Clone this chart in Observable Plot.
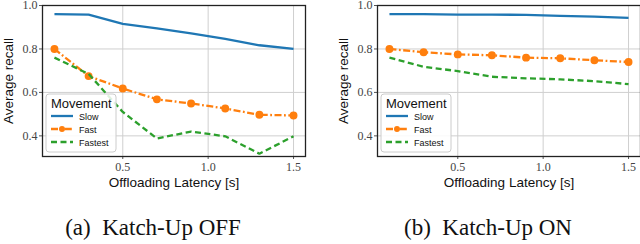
<!DOCTYPE html>
<html>
<head>
<meta charset="utf-8">
<script src="https://cdn.jsdelivr.net/npm/d3@7"></script>
<script src="https://cdn.jsdelivr.net/npm/@observablehq/plot@0.6"></script>
<style>
  html, body { margin: 0; padding: 0; background: #fff; }
  #wrap { position: relative; width: 640px; height: 244px; overflow: hidden; }
  #row { display: flex; }
  .cap { position: absolute; top: 215px; font-family: "Liberation Serif", "Times New Roman", serif; font-size: 23px; color: #111; white-space: pre; transform: translateX(-50%); }
</style>
</head>
<body>
<div id="wrap">
  <div id="row"></div>
  <div class="cap" id="capA" style="left:153px"></div>
  <div class="cap" id="capB" style="left:488px"></div>
</div>
<script>
const latency = [0.1, 0.3, 0.5, 0.7, 0.9, 1.1, 1.3, 1.5];
const series = ["Slow", "Fast", "Fastest"];
const colors = ["#1f77b4", "#ff7f0e", "#2ca02c"];
const captions = ["(a)\u2002Katch-Up OFF", "(b)\u2002Katch-Up ON"];
const xTicks = [0.5, 1.0, 1.5];
const yTicks = [0.4, 0.6, 0.8, 1.0];

const offSlow    = [0.960, 0.958, 0.915, 0.895, 0.872, 0.846, 0.817, 0.800];
const offFast    = [0.800, 0.675, 0.618, 0.568, 0.549, 0.526, 0.497, 0.494];
const offFastest = [0.760, 0.685, 0.510, 0.388, 0.420, 0.398, 0.318, 0.398];

const onSlow    = [0.960, 0.960, 0.958, 0.958, 0.957, 0.952, 0.949, 0.943];
const onFast    = [0.800, 0.785, 0.775, 0.771, 0.760, 0.757, 0.748, 0.740];
const onFastest = [0.760, 0.718, 0.698, 0.672, 0.665, 0.660, 0.652, 0.638];

const dashes = {Slow: null, Fast: "7,2.5,1.8,2.5", Fastest: "6,3.5"};

function rows(vals) {
  return vals.flatMap((arr, i) => arr.map((v, j) => ({x: latency[j], y: v, s: series[i]})));
}

function panel(data, ml, mr) {
  const sansFont = "Liberation Sans, Arial, sans-serif";
  const serifFont = "'Liberation Serif', 'Times New Roman', serif";
  const fmt = d3.format(".1f");
  const marks = [
    Plot.gridX(xTicks, {stroke: "#cfcfcf", strokeOpacity: 1, strokeWidth: 1}),
    Plot.gridY(yTicks, {stroke: "#cfcfcf", strokeOpacity: 1, strokeWidth: 1}),
    Plot.axisX(xTicks, {tickSize: 3, tickFormat: () => "", label: null, stroke: "#555"}),
    Plot.axisY(yTicks, {tickSize: 3, tickFormat: () => "", label: null, stroke: "#555"}),
    Plot.text(xTicks, {x: d => d, text: d => fmt(d), frameAnchor: "bottom", dy: 11, lineAnchor: "middle", textAnchor: "middle", fontSize: 12, fill: "#444"}),
    Plot.text(yTicks, {y: d => d, text: d => fmt(d), frameAnchor: "left", dx: -5, lineAnchor: "middle", textAnchor: "end", fontSize: 12, fill: "#444"}),
  ];
  for (const s of series) {
    const d = data.filter(r => r.s === s);
    const c = colors[series.indexOf(s)];
    marks.push(Plot.line(d, {x: "x", y: "y", stroke: c, strokeWidth: 2.3, strokeDasharray: dashes[s], strokeLinecap: "butt"}));
    if (s === "Fast") marks.push(Plot.dot(d, {x: "x", y: "y", r: 3.2, fill: c, stroke: c}));
  }
  marks.push(Plot.frame({stroke: "#222", strokeWidth: 1.3}));
  marks.push(Plot.text(["Average recall"], {frameAnchor: "left", textAnchor: "middle", lineAnchor: "middle", dx: -34, rotate: -90, fontFamily: sansFont, fontSize: 13.5, fill: "#111"}));
  marks.push(Plot.text(["Offloading Latency [s]"], {frameAnchor: "bottom", textAnchor: "middle", lineAnchor: "middle", dy: 26, fontFamily: sansFont, fontSize: 13.5, fill: "#111"}));
  const p = Plot.plot({
    width: 320, height: 195,
    marginLeft: ml, marginRight: mr, marginTop: 5, marginBottom: 39,
    x: {domain: [0.03, 1.57]},
    y: {domain: [0.305, 1.0]},
    style: {color: "#333", background: "transparent", overflow: "visible"},
    marks
  });
  const svg = d3.select(p);
  // serif tick labels
  svg.selectAll("text").filter(function () { return /^\d\.\d$/.test(this.textContent); })
    .style("font-family", serifFont).style("font-size", "12px");
  // legend
  const bx = ml + 4, by = 94, bw = 70, bh = 58;
  const g = svg.append("g").attr("font-family", sansFont).attr("text-anchor", "start");
  g.append("rect").attr("x", bx).attr("y", by).attr("width", bw).attr("height", bh)
    .attr("rx", 3).attr("fill", "white").attr("fill-opacity", 0.85).attr("stroke", "#cccccc");
  g.append("text").attr("x", bx + 5).attr("y", by + 14).attr("font-size", 13).attr("fill", "#111").text("Movement");
  const ys = [116, 129, 142];
  series.forEach((s, i) => {
    const y = ys[i];
    g.append("line").attr("x1", bx + 5).attr("x2", bx + 27).attr("y1", y).attr("y2", y)
      .attr("stroke", colors[i]).attr("stroke-width", 2.3)
      .attr("stroke-dasharray", dashes[s] || null);
    if (s === "Fast") g.append("circle").attr("cx", bx + 16).attr("cy", y).attr("r", 3).attr("fill", colors[i]);
    g.append("text").attr("x", bx + 33).attr("y", y + 3.5).attr("font-size", 9).attr("fill", "#111").text(s);
  });
  return p;
}

const row = document.getElementById("row");
row.appendChild(panel(rows([offSlow, offFast, offFastest]), 42, 15));
row.appendChild(panel(rows([onSlow, onFast, onFastest]), 57, 0));
document.getElementById("capA").textContent = captions[0];
document.getElementById("capB").textContent = captions[1];
</script>
</body>
</html>
